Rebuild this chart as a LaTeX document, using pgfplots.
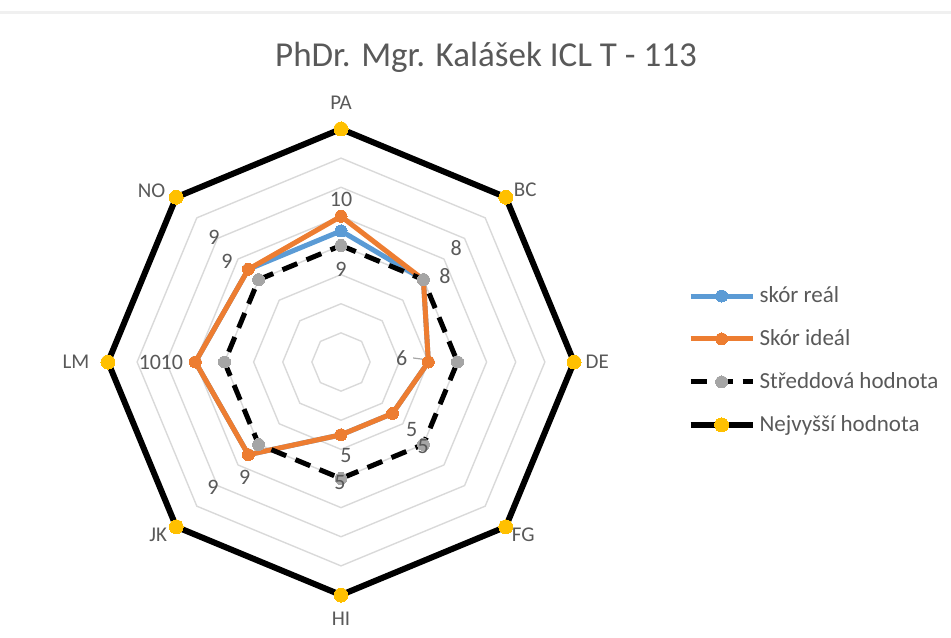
\documentclass[border=0pt]{standalone}
\usepackage{fontspec}
\setmainfont{Carlito}
\usepackage{pgfplots}
\pgfplotsset{compat=1.18}
\usepgfplotslibrary{polar}
\definecolor{cblue}{HTML}{5B9BD5}
\definecolor{corange}{HTML}{ED7D31}
\definecolor{cgray}{HTML}{A5A5A5}
\definecolor{cyellow}{HTML}{FFC000}
\definecolor{ctext}{HTML}{595959}
\definecolor{cgrid}{HTML}{D9D9D9}
\begin{document}
\begin{tikzpicture}[x=0.5pt,y=0.5pt]
\path[use as bounding box] (0,0) rectangle (951,637);
\draw[color=black!6, line width=1.5pt] (0,624) -- (951,624);
\node[anchor=base, text=ctext, font=\fontsize{17.5}{20}\selectfont, inner sep=0pt] at (486,570.3) {PhDr. Mgr. Kalášek ICL T - 113};
\begin{polaraxis}[
  at={(170.5pt,137.5pt)}, anchor=center,
  scale only axis, width=233pt, height=233pt,
  xmin=0, xmax=360, ymin=0, ymax=8,
  axis line style={draw=none},
  xtick=\empty, ytick=\empty,
  clip=false,
  legend cell align=left,
  legend style={draw=none, fill=none, at={(1.23,0.68)}, anchor=north west,
    font=\fontsize{11.5}{13}\selectfont, text=ctext, row sep=8pt,
    /tikz/every even column/.append style={column sep=2pt}},
  legend image code/.code={\draw[mark repeat=2,mark phase=2,#1] plot coordinates {(0pt,0pt) (15.5pt,0pt) (31pt,0pt)};},
  every axis plot/.append style={line join=round},
]
% octagonal grid
\addplot[cgrid, line width=0.7pt, forget plot] coordinates {(0,1) (45,1) (90,1) (135,1) (180,1) (225,1) (270,1) (315,1) (360,1)};
\addplot[cgrid, line width=0.7pt, forget plot] coordinates {(0,2) (45,2) (90,2) (135,2) (180,2) (225,2) (270,2) (315,2) (360,2)};
\addplot[cgrid, line width=0.7pt, forget plot] coordinates {(0,3) (45,3) (90,3) (135,3) (180,3) (225,3) (270,3) (315,3) (360,3)};
\addplot[cgrid, line width=0.7pt, forget plot] coordinates {(0,4) (45,4) (90,4) (135,4) (180,4) (225,4) (270,4) (315,4) (360,4)};
\addplot[cgrid, line width=0.7pt, forget plot] coordinates {(0,5) (45,5) (90,5) (135,5) (180,5) (225,5) (270,5) (315,5) (360,5)};
\addplot[cgrid, line width=0.7pt, forget plot] coordinates {(0,6) (45,6) (90,6) (135,6) (180,6) (225,6) (270,6) (315,6) (360,6)};
\addplot[cgrid, line width=0.7pt, forget plot] coordinates {(0,7) (45,7) (90,7) (135,7) (180,7) (225,7) (270,7) (315,7) (360,7)};
% skor real
\addplot[cblue, line width=2.5pt, mark=*, mark size=3pt, mark options={solid, fill=cblue, draw=cblue, line width=0pt}]
  coordinates {(90,4.5) (45,4) (0,3) (315,2.5) (270,2.5) (225,4.5) (180,5) (135,4.5) (90,4.5)};
\addlegendentry{skór reál}
% skor ideal
\addplot[corange, line width=2.5pt, mark=*, mark size=3pt, mark options={solid, fill=corange, draw=corange, line width=0pt}]
  coordinates {(90,5) (45,4) (0,3) (315,2.5) (270,2.5) (225,4.5) (180,5) (135,4.5) (90,5)};
\addlegendentry{Skór ideál}
% stredni
\addplot[black, line width=2.5pt, dash pattern=on 8pt off 5pt, mark=*, mark size=3pt, mark options={solid, fill=cgray, draw=cgray, line width=0pt}]
  coordinates {(90,4) (45,4) (0,4) (315,4) (270,4) (225,4) (180,4) (135,4) (90,4)};
\addlegendentry{Středdová hodnota}
% leader line
\addplot[black!35, line width=0.6pt, forget plot] coordinates {(3.2,2.48) (1.5,2.95)};
% data labels
\addplot[draw=none, mark=none, forget plot, nodes near coords, point meta=explicit symbolic,
  nodes near coords style={anchor=center, text=ctext, font=\fontsize{11}{13}\selectfont, inner sep=0pt}]
  coordinates {
  (90,5.58)[10] (90,3.17)[9]
  (39.7,4.64)[8] (44.8,5.57)[8]
  (4,2.09)[6]
  (316.2,3.36)[5] (314.1,4.05)[5]
  (273,3.22)[5] (269.5,4.15)[5]
  (230.2,5.16)[9] (224.5,6.16)[9]
  (180,6.56)[10] (180,5.81)[10]
  (138.6,5.22)[9] (135.6,6.11)[9]
  };
% nejvyssi
\addplot[black, line width=3pt, mark=*, mark size=3.5pt, mark options={solid, fill=cyellow, draw=cyellow, line width=0pt}]
  coordinates {(90,8) (45,8) (0,8) (315,8) (270,8) (225,8) (180,8) (135,8) (90,8)};
\addlegendentry{Nejvyšší hodnota}
% category labels
\begin{scope}[every node/.style={text=ctext, font=\fontsize{10.5}{12}\selectfont, inner sep=0pt}]
\node at (axis cs:90,8.9) {PA};
\node at (axis cs:43.1,8.66) {BC};
\node at (axis cs:0,8.8) {DE};
\node at (axis cs:316.5,8.63) {FG};
\node at (axis cs:270,8.8) {HI};
\node at (axis cs:223.4,8.64) {JK};
\node at (axis cs:180,9.1) {LM};
\node at (axis cs:137.9,8.77) {NO};
\end{scope}
\end{polaraxis}
\end{tikzpicture}
\end{document}
